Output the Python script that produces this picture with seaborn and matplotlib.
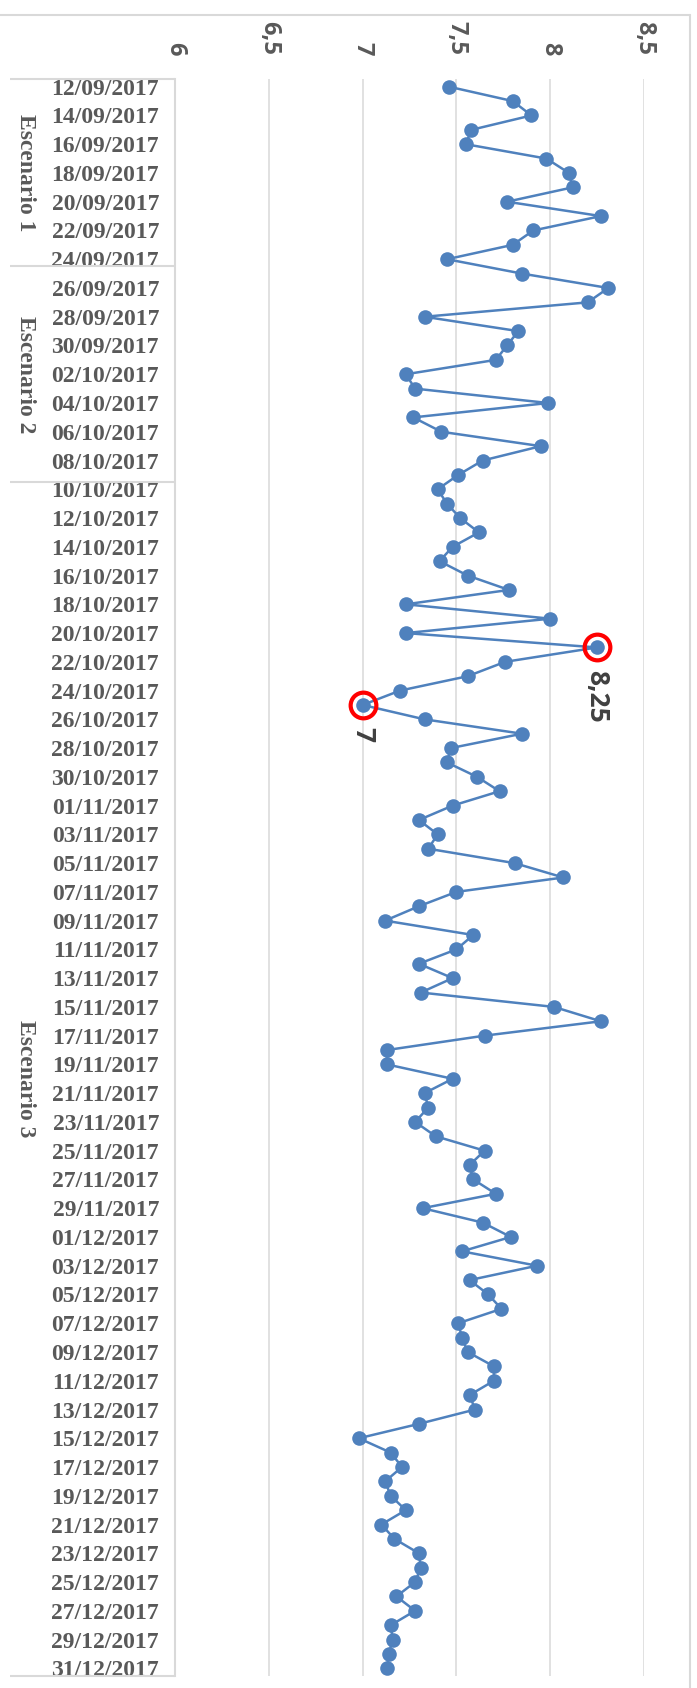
import numpy as np
import pandas as pd
import matplotlib
matplotlib.use("Agg")
import matplotlib.pyplot as plt
from matplotlib.lines import Line2D
import seaborn as sns

# Data
fechas = pd.date_range("2017-09-12", "2017-12-31", freq="D")

valores_sep = [7.46, 7.80, 7.90, 7.58, 7.55, 7.98, 8.10, 8.12, 7.77, 8.27,
               7.91, 7.80, 7.45, 7.85, 8.31, 8.20, 7.33, 7.83, 7.77]
valores_oct = [7.71, 7.23, 7.28, 7.99, 7.27, 7.42, 7.95, 7.64, 7.51, 7.40,
               7.45, 7.52, 7.62, 7.48, 7.41, 7.56, 7.78, 7.23, 8.00, 7.23,
               8.25, 7.76, 7.56, 7.20, 7.00, 7.33, 7.85, 7.47, 7.45, 7.61,
               7.73]
valores_nov = [7.48, 7.30, 7.40, 7.35, 7.81, 8.07, 7.50, 7.30, 7.12, 7.59,
               7.50, 7.30, 7.48, 7.31, 8.02, 8.27, 7.65, 7.13, 7.13, 7.48,
               7.33, 7.35, 7.28, 7.39, 7.65, 7.57, 7.59, 7.71, 7.32, 7.64]
valores_dic = [7.79, 7.53, 7.93, 7.57, 7.67, 7.74, 7.51, 7.53, 7.56, 7.70,
               7.70, 7.57, 7.60, 7.30, 6.98, 7.15, 7.21, 7.12, 7.15, 7.23,
               7.10, 7.17, 7.30, 7.31, 7.28, 7.18, 7.28, 7.15, 7.16, 7.14,
               7.13]
valores = valores_sep + valores_oct + valores_nov + valores_dic

escenarios = ["Escenario 1", "Escenario 2", "Escenario 3"]
escenario_inicio = ["2017-09-12", "2017-09-25", "2017-10-10"]
escenario_fin = ["2017-09-24", "2017-10-09", "2017-12-31"]

destacados = ["2017-10-21", "2017-10-25"]
destacados_txt = ["8,25", "7"]

valor_ticks = [6, 6.5, 7, 7.5, 8, 8.5]

df = pd.DataFrame({"fecha": fechas, "valor": valores})
df["pos"] = np.arange(len(df))

# Style
sns.set_theme(style="white")
plt.rcParams["font.family"] = ["Liberation Serif", "DejaVu Serif"]

AZUL = "#4F81BD"
GRIS = "#D9D9D9"
TEXTO = "#595959"
SANS = ["Open Sans", "DejaVu Sans"]

W, H = 697, 1688
fig = plt.figure(figsize=(W / 100, H / 100), dpi=100)
ax = fig.add_axes([175 / W, 1 - 1675.5 / H, (644 - 175) / W, (1675.5 - 79.5) / H])

sns.lineplot(data=df, x="valor", y="pos", sort=False, estimator=None,
             orient="y", color=AZUL, linewidth=1.8, marker="o",
             markersize=10.5, markeredgewidth=0, ax=ax)

ax.set_xlim(6, 8.5)
ax.set_ylim(len(df) - 0.5, -0.5)

# value axis on top, rotated labels
ax.xaxis.tick_top()
ax.set_xticks(valor_ticks)
ax.set_xticklabels([f"{v:g}".replace(".", ",") for v in valor_ticks],
                   rotation=-90, fontfamily=SANS, fontweight="bold",
                   fontsize=17, color=TEXTO)
ax.tick_params(axis="x", length=0, pad=17.6)
ax.grid(axis="x", color=GRIS, linewidth=1.1)
ax.grid(axis="y", visible=False)

# date labels every second day
ax.set_yticks(df["pos"][::2])
ax.set_yticklabels(df["fecha"][::2].dt.strftime("%d/%m/%Y"),
                   fontweight="bold", fontsize=17, color=TEXTO)
ax.tick_params(axis="y", length=0, pad=11.5)
ax.set_xlabel("")
ax.set_ylabel("")

for s in ["top", "right", "bottom"]:
    ax.spines[s].set_visible(False)
ax.spines["left"].set_color(GRIS)
ax.spines["left"].set_linewidth(1.5)

# scenario brackets
trans = ax.get_yaxis_transform()
x_izq = (10 - 175) / (644 - 175)
x_txt = (25 - 175) / (644 - 175)
fechas_idx = pd.Index(df["fecha"])
bordes = [-0.5]
for nombre, ini, fin in zip(escenarios, escenario_inicio, escenario_fin):
    i0 = fechas_idx.get_loc(pd.Timestamp(ini))
    i1 = fechas_idx.get_loc(pd.Timestamp(fin))
    bordes.append(i1 + 0.5)
    ax.text(x_txt, (i0 + i1) / 2, nombre, transform=trans,
            rotation=-90, ha="center", va="center", fontweight="bold",
            fontsize=17, color=TEXTO, clip_on=False)
for b in bordes:
    ax.plot([x_izq, 0], [b, b], transform=trans, color=GRIS, linewidth=1.5,
            clip_on=False, solid_capstyle="butt")

# highlighted points
for fecha, txt in zip(destacados, destacados_txt):
    fila = df[df["fecha"] == pd.Timestamp(fecha)].iloc[0]
    ax.plot(fila["valor"], fila["pos"], marker="o", markersize=18.5,
            markerfacecolor="none", markeredgecolor="#FF0000",
            markeredgewidth=3, clip_on=False)
    ax.annotate(txt, (fila["valor"], fila["pos"]), xytext=(0, -16),
                textcoords="offset points", rotation=-90, ha="center",
                va="top", fontfamily=SANS, fontweight="bold",
                fontsize=19, color="#404040")

# chart area border (top and right)
fig.add_artist(Line2D([0, 690 / W], [1 - 15 / H, 1 - 15 / H],
                      transform=fig.transFigure, color=GRIS, linewidth=1.5))
fig.add_artist(Line2D([690 / W, 690 / W], [0, 1 - 15 / H],
                      transform=fig.transFigure, color=GRIS, linewidth=1.5))

fig.savefig("out.png", dpi=100)
